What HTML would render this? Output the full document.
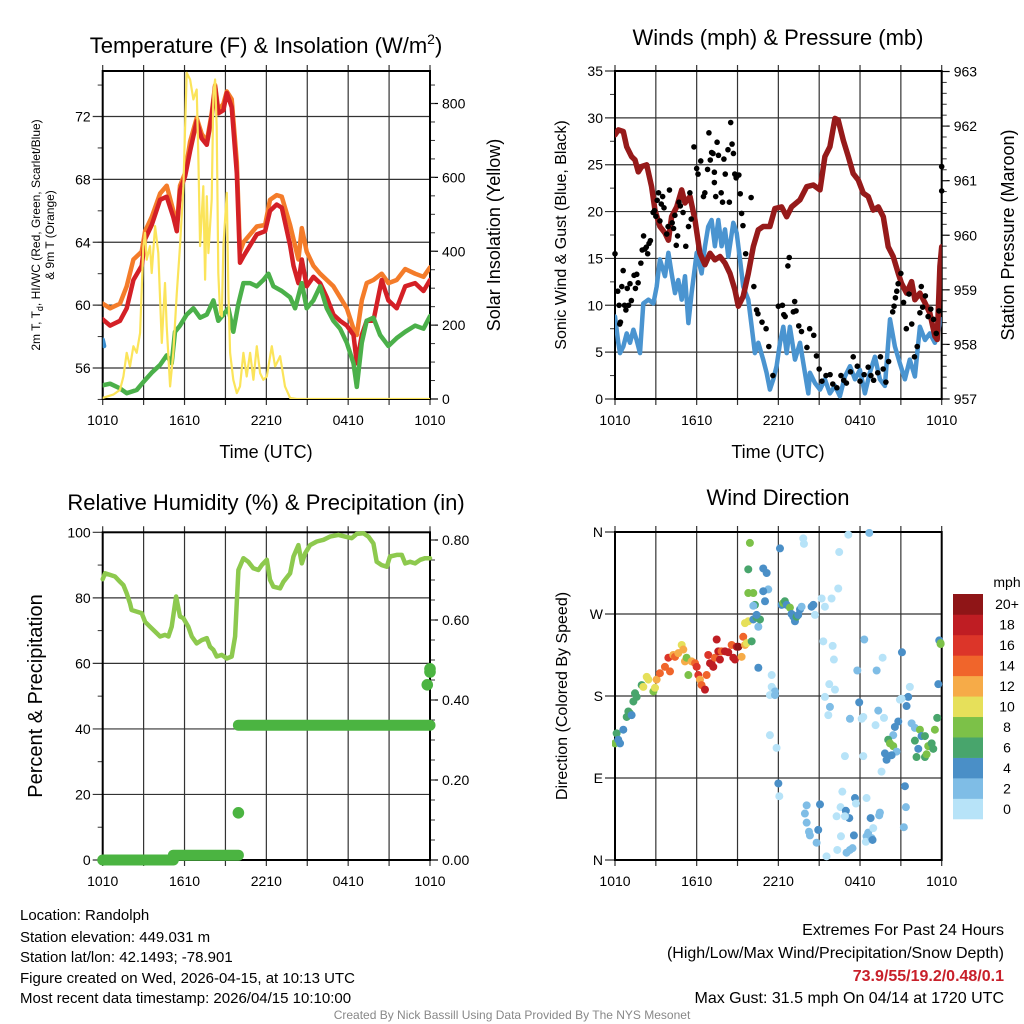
<!DOCTYPE html>
<html><head><meta charset="utf-8">
<style>
html,body{margin:0;padding:0;background:#fff;}
svg{display:block;font-family:"Liberation Sans",Arial,sans-serif;}
</style></head>
<body>
<svg id="fig" width="1024" height="1024" viewBox="0 0 1024 1024" xmlns="http://www.w3.org/2000/svg">
<defs>
<clipPath id="c1"><rect x="102.7" y="71" width="327.3" height="328"/></clipPath>
<clipPath id="c2"><rect x="615" y="71" width="326.7" height="328"/></clipPath>
<clipPath id="c3"><rect x="90" y="525" width="352" height="345"/></clipPath>
<clipPath id="c4"><rect x="612" y="529" width="334" height="334"/></clipPath>
</defs>
<g id="root"></g>
<text x="266" y="53" font-size="22" text-anchor="middle">Temperature (F) &amp; Insolation (W/m<tspan font-size="14" dy="-9">2</tspan><tspan dy="9">)</tspan></text>
<text x="778" y="45" font-size="22" text-anchor="middle">Winds (mph) &amp; Pressure (mb)</text>
<text x="266" y="510" font-size="22" text-anchor="middle">Relative Humidity (%) &amp; Precipitation (in)</text>
<text x="778" y="505" font-size="22" text-anchor="middle">Wind Direction</text>
<text x="266" y="458" font-size="18" text-anchor="middle">Time (UTC)</text>
<text x="778" y="458" font-size="18" text-anchor="middle">Time (UTC)</text>
<g transform="translate(40,235) rotate(-90)">
<text x="0" y="0" font-size="12" text-anchor="middle">2m T, T<tspan font-size="9" dy="3">d</tspan><tspan dy="-3">, HI/WC (Red, Green, Scarlet/Blue)</tspan></text>
<text x="0" y="14" font-size="12" text-anchor="middle">&amp; 9m T (Orange)</text>
</g>
<text transform="translate(500,235) rotate(-90)" font-size="18" text-anchor="middle">Solar Insolation (Yellow)</text>
<text transform="translate(566,235) rotate(-90)" font-size="16" text-anchor="middle">Sonic Wind &amp; Gust (Blue, Black)</text>
<text transform="translate(1014,235) rotate(-90)" font-size="18" text-anchor="middle">Station Pressure (Maroon)</text>
<text transform="translate(42,696) rotate(-90)" font-size="20" text-anchor="middle">Percent &amp; Precipitation</text>
<text transform="translate(567,696) rotate(-90)" font-size="16" text-anchor="middle">Direction (Colored By Speed)</text>
<g font-size="15">
<text x="20" y="920">Location: Randolph</text>
<text x="20" y="942">Station elevation: 449.031 m</text>
<text x="20" y="962">Station lat/lon: 42.1493; -78.901</text>
<text x="20" y="983">Figure created on Wed, 2026-04-15, at 10:13 UTC</text>
<text x="20" y="1003">Most recent data timestamp: 2026/04/15 10:10:00</text>
</g>
<g font-size="16" text-anchor="end">
<text x="1004" y="935">Extremes For Past 24 Hours</text>
<text x="1004" y="958">(High/Low/Max Wind/Precipitation/Snow Depth)</text>
<text x="1004" y="981" fill="#c8202a" font-weight="bold">73.9/55/19.2/0.48/0.1</text>
<text x="1004" y="1003">Max Gust: 31.5 mph On 04/14 at 1720 UTC</text>
</g>
<text x="512" y="1019" font-size="12" fill="#888" text-anchor="middle">Created By Nick Bassill Using Data Provided By The NYS Mesonet</text>
</svg>
<script>
// ---------- DATA ----------
const xTickLabels = ["1010","1610","2210","0410","1010"];
// Panel 1 temperatures (hours since 1010 UTC)
const tempTimes = [0,0.54,1.27,1.76,2.25,2.86,3.11,3.59,4.21,4.69,5.18,5.43,5.67,6.04,6.41,6.89,7.26,7.63,7.99,8.24,8.48,8.85,9.10,9.46,9.83,10.07,10.32,10.81,11.30,11.91,12.27,12.76,13.13,13.74,13.99,14.35,14.60,14.96,15.45,15.94,16.43,16.92,17.41,17.90,18.39,18.63,19.00,19.36,19.85,20.46,20.95,21.56,22.18,22.91,23.52,24];
const temp2m = [59.1,58.7,59.0,59.8,61.6,62.5,64.2,65.1,66.7,66.9,65.6,64.7,67.3,68.2,69.8,71.7,70.6,70.2,72.0,73.9,72.2,72.4,73.5,72.6,68.4,62.7,63.1,63.8,64.5,64.7,66.0,66.4,66.2,63.8,62.5,61.4,62.9,61.2,61.8,61.4,60.5,59.4,59.0,58.7,58.1,56.3,58.1,59.0,59.0,61.6,60.3,59.8,61.2,61.4,60.9,61.6];
const temp9m = [60.1,59.8,60.1,61.2,62.9,63.4,64.7,65.6,67.1,67.6,66.0,64.9,67.6,68.4,70.4,71.9,70.9,70.4,72.2,74.0,72.4,72.8,73.6,73.1,69.1,63.4,64.0,64.5,65.0,65.1,66.7,67.0,66.9,65.1,64.2,62.9,64.9,63.4,62.5,62.0,61.6,61.2,60.5,59.8,58.5,58.1,60.3,61.4,61.6,62.0,61.4,61.6,62.3,62.0,61.8,62.4];
const dewTimes = [0,0.54,1.27,1.76,2.49,2.98,3.59,4.21,4.69,5.06,5.30,5.67,6.16,6.65,7.14,7.63,8.12,8.48,8.85,9.22,9.58,9.95,10.32,10.81,11.30,11.78,12.15,12.52,13.13,13.74,14.11,14.60,14.96,15.45,15.94,16.43,16.92,17.41,17.90,18.39,18.63,19.00,19.36,19.85,20.34,20.95,21.56,22.18,22.91,23.52,24];
const dewpoint = [54.9,55.0,54.7,54.4,54.6,55.1,55.7,56.2,56.8,56.3,58.3,58.7,59.4,59.8,59.2,59.4,60.3,59.0,59.4,59.8,58.3,60.1,61.4,61.4,61.2,61.6,62.0,61.2,60.9,60.5,59.8,61.4,59.8,60.3,61.2,59.8,59.0,58.5,57.6,56.3,54.8,57.6,59.0,59.2,58.1,57.4,57.9,58.3,58.7,58.5,59.3];
const windChillTimes = [0,0.1];
const windChill = [57.8,57.4];
const solarTimes = [0,0.78,1.27,1.52,1.76,2.0,2.25,2.49,2.74,2.98,3.11,3.23,3.47,3.59,3.84,4.08,4.33,4.57,4.69,4.94,5.18,5.43,5.67,5.92,6.16,6.41,6.65,6.89,7.02,7.14,7.38,7.51,7.63,7.75,7.99,8.12,8.24,8.36,8.48,8.61,8.73,8.85,9.10,9.22,9.34,9.58,9.83,10.07,10.32,10.56,10.81,11.05,11.30,11.54,11.78,12.03,12.40,12.64,13.01,13.37,13.74,14.23,24];
const solar = [3,12,25,61,125,88,143,125,179,414,450,377,414,341,468,395,152,314,197,34,125,287,414,576,883,865,811,838,648,414,576,323,549,395,540,829,865,738,341,233,224,414,558,287,125,52,16,34,125,61,125,52,143,70,52,61,143,88,116,34,3,0,0];
// Panel 2 winds & pressure
const windTimes = [0,0.24,0.37,0.61,0.86,1.10,1.35,1.59,1.84,2.08,2.45,2.82,3.06,3.30,3.67,3.92,4.16,4.41,4.65,4.90,5.14,5.39,5.63,6.00,6.36,6.61,6.85,7.10,7.34,7.59,7.83,8.08,8.32,8.69,8.94,9.18,9.42,9.79,10.04,10.28,10.53,10.89,11.14,11.38,11.63,11.87,12.12,12.36,12.61,12.85,13.22,13.59,14.20,14.32,14.69,15.06,15.42,15.79,16.16,16.52,16.89,17.26,17.63,17.99,18.36,18.72,19.09,19.46,19.83,20.20,20.56,20.93,21.30,21.66,22.03,22.40,22.77,23.13,23.50,23.87,24];
const windSpeed = [8.8,6.0,4.9,5.6,7.0,6.0,7.4,6.3,4.9,10.2,10.6,10.2,12.0,14.9,13.1,15.6,13.4,11.3,12.7,10.6,13.1,8.1,11.3,15.6,13.4,16.3,18.4,19.1,16.3,19.1,16.3,18.1,15.2,18.8,17.7,14.9,12.0,10.6,7.7,4.9,6.0,4.2,2.8,1.0,2.1,3.5,6.0,7.7,4.9,7.7,4.2,6.0,0.6,2.8,1.7,1.0,2.1,0.6,1.4,0.3,2.4,3.5,2.1,3.1,0.6,2.8,4.5,2.1,1.4,8.5,5.6,3.8,2.1,4.2,2.4,7.7,6.3,7.0,6.0,8.1,8.5];
const gustTimes = [0,0.2,0.3,0.35,0.4,0.5,0.6,0.7,0.8,0.9,1.0,1.1,1.2,1.4,1.5,1.6,1.7,1.9,2.0,2.1,2.2,2.3,2.4,2.5,2.6,2.8,2.9,3.0,3.1,3.2,3.3,3.4,3.5,3.6,3.8,3.9,4.0,4.2,4.3,4.4,4.5,4.6,4.7,4.8,5.0,5.2,5.4,5.5,5.6,5.8,6.0,6.1,6.3,6.5,6.6,6.8,6.9,7.0,7.1,7.2,7.3,7.3,7.4,7.5,7.6,7.8,7.9,8.0,8.1,8.3,8.4,8.5,8.6,8.7,8.8,8.9,9.1,9.2,9.3,9.4,9.6,10.0,10.2,10.4,10.5,10.8,11.1,11.3,11.6,12.0,12.3,12.4,12.5,12.7,12.8,13.1,13.2,13.3,13.5,13.7,14.1,14.3,14.6,14.8,15.0,15.2,15.5,15.8,16.0,16.3,16.6,16.8,17.0,17.3,17.5,17.8,18.0,18.3,18.6,18.8,19.0,19.3,19.5,19.7,19.9,20.1,20.4,20.5,20.6,20.7,20.8,21.0,21.2,21.4,21.6,21.8,22.0,22.2,22.4,22.5,22.6,22.8,23.0,23.2,23.4,23.6,23.8,24.0,24.0];
const gustSpeed = [15.5,11.5,10,8,8.2,12,13.7,10,9.5,11.8,10,12.3,10.5,13.2,11.8,13.3,12.4,14.5,15.9,17.4,16,16.2,15.5,16.6,16.9,19.9,20.1,19.5,21.2,22,19,20.8,21.6,20.4,17.6,18.4,22.3,18.8,18.2,19.6,16.4,17.4,21,20.6,19.9,16.3,18.4,22,19.2,26.9,24.6,24,25.4,21.6,22,24.5,28.4,25.5,26.3,26.2,24.2,23.1,21.6,27.4,26,22,21,25.6,24,26.6,21,29.5,27.2,26.2,24,23.6,23.9,21.9,19.8,18.5,15.5,21.5,12,9.5,9.1,8.2,7.5,5.6,2.5,9.9,10,9,8.8,14.2,15.1,9.3,10.4,9.4,7.8,7.2,5.5,7.5,6.8,4.6,3.2,1.9,2.5,2.6,1.6,1.2,2.5,2.0,1.7,2.9,4.5,3.5,1.9,2.6,3.4,2.5,2.0,2.8,4.5,3.2,1.8,4.0,9.3,9.9,10.8,11.5,12.3,13.4,10.3,7.5,11.2,8.0,4.5,5.6,9.2,12,9.8,11,8.8,9.6,8.5,7.0,9.4,24.8,22.2];
const presTimes = [0,0.24,0.61,0.86,1.22,1.47,1.71,1.96,2.33,2.69,2.94,3.30,3.67,3.92,4.16,4.53,4.90,5.14,5.51,5.88,6.24,6.61,6.98,7.34,7.71,8.08,8.45,8.81,9.06,9.42,9.79,10.16,10.53,10.89,11.38,11.75,12.24,12.61,12.97,13.59,14.08,14.57,15.06,15.42,15.79,16.16,16.40,16.77,17.14,17.50,17.87,18.24,18.60,18.97,19.34,19.71,20.07,20.44,20.81,21.05,21.42,21.79,22.03,22.40,22.77,23.13,23.50,23.67,23.87,24.0];
const pressure = [961.84,961.93,961.90,961.62,961.44,961.38,961.16,961.26,961.29,960.89,960.46,960.16,960.04,959.91,960.34,960.52,960.83,960.59,960.71,960.28,959.67,959.46,959.67,959.55,959.61,959.49,959.30,959.00,958.70,958.88,959.30,959.79,960.10,960.16,960.16,960.49,960.52,960.34,960.52,960.65,960.89,960.92,960.83,961.44,961.62,962.14,962.11,961.74,961.44,961.13,961.01,960.77,960.71,960.46,960.52,960.34,959.79,959.61,959.30,959.12,958.94,959.15,958.82,958.94,958.76,958.57,958.15,958.09,959.43,959.79];
// Panel 3 humidity & precipitation
const rhTimes = [0,0.17,0.54,0.90,1.27,1.52,1.76,2.0,2.12,2.49,2.86,3.11,3.47,3.84,4.21,4.57,4.82,5.06,5.38,5.67,5.92,6.28,6.53,6.89,7.26,7.63,7.87,8.12,8.36,8.73,9.10,9.46,9.71,9.95,10.32,10.68,11.05,11.42,11.67,12.03,12.27,12.52,13.01,13.25,13.74,13.99,14.35,14.60,14.84,15.21,15.70,16.19,16.67,17.28,17.77,18.26,18.63,19.12,19.48,19.85,20.09,20.46,20.83,21.07,21.56,21.93,22.18,22.54,22.91,23.28,23.64,24];
const humidity = [85.7,87.5,87.0,86.5,84.9,83.9,81.4,78.3,76.3,75.8,75.3,72.7,71.2,69.7,68.2,68.7,68.2,71.2,80.4,74.3,73.8,71.2,68.2,66.1,67.1,67.7,65.1,64.1,62.1,62.6,61.5,62.1,68.2,88.5,92.1,91.0,89.0,88.5,90.0,91.6,85.5,83.4,82.9,84.9,87.5,92.6,96.1,90.5,93.6,96.1,97.2,97.7,98.7,99.2,98.7,98.2,99.5,99.7,98.7,96.6,91.0,90.0,89.5,92.6,93.1,93.1,90.5,91.0,90.5,91.6,92.1,92.1];
const precipRunStart = [0,5.18,9.95];
const precipRunEnd = [5.18,9.95,24];
const precipRunValue = [0.0,0.012,0.337];
const precipDotTimes = [9.95,23.8,24.0,24.0];
const precipDotValues = [0.118,0.438,0.47,0.478];
// Panel 4 wind direction
const dirTimes = [0,0.12,0.24,0.37,0.61,0.86,0.98,1.10,1.22,1.35,1.59,1.47,1.96,2.08,2.33,2.45,2.82,2.94,3.06,3.30,3.67,3.92,4.04,4.28,4.41,4.65,4.90,5.02,5.14,5.26,5.39,5.63,5.88,6.00,6.12,6.24,6.36,6.61,6.73,6.85,6.98,7.10,7.22,7.34,7.47,7.59,7.71,7.83,8.08,8.32,8.57,8.69,8.81,8.94,9.06,9.30,9.42,9.55,9.67,9.55,9.79,10.04,10.16,10.40,10.53,10.65,10.40,10.28,10.16,10.16,9.79,9.79,9.91,10.89,11.14,11.26,10.89,11.02,10.53,12.12,12.24,12.36,12.48,12.61,12.85,12.97,13.10,13.22,13.34,13.46,13.59,13.71,14.44,14.57,14.69,15.18,15.42,15.91,16.40,13.83,13.88,16.47,17.14,18.68,
11.51,11.51,11.63,11.75,11.38,11.75,11.38,11.87,12.00,12.07,15.30,15.99,16.08,15.74,16.16,15.79,15.67,15.42,16.89,17.26,18.12,18.24,17.94,17.80,18.31,19.22,19.66,19.34,19.76,19.14,18.24,19.58,
21.08,21.66,21.54,21.42,20.93,21.05,20.81,20.56,20.44,20.07,20.20,20.44,20.69,19.83,20.32,19.95,21.79,22.03,22.03,22.40,22.52,22.77,23.01,23.26,23.38,23.50,23.67,22.28,22.15,22.77,22.89,23.75,23.82,23.92,23.92,
14.08,13.95,14.08,14.25,14.32,14.81,15.06,14.93,15.54,16.33,16.28,16.57,16.96,16.70,17.21,16.89,16.60,17.01,17.26,17.45,17.55,17.63,17.70,18.48,18.48,18.60,18.43,18.85,18.92,18.97,18.78,19.41,19.46,21.30,21.37,21.22];
const dirDegrees = [128,139,132,128,143,157,163,161,159,174,179,183,192,190,201,198,185,189,198,205,212,222,207,225,223,227,236,231,218,222,203,218,216,212,203,198,192,187,203,225,216,215,212,222,242,229,220,229,229,228,236,222,220,234,234,223,245,236,238,260,262,240,264,266,256,264,269,280,279,293,293,319,348,320,315,297,295,284,211,342,280,282,284,280,277,270,267,262,267,269,275,278,278,280,269,287,278,287,298,353,347,338,357,359,
203,190,187,185,181,181,137,123,84,70,240,235,220,193,187,168,159,179,114,155,155,157,173,208,242,208,222,164,156,148,114,97,
228,190,179,169,176,177,152,146,137,132,128,125,119,117,115,110,150,145,131,143,136,136,125,128,122,143,156,122,113,113,116,193,241,237,238,
60,51,41,31,27,19,61,33,4,11,48,58,54,75,46,48,26,8,11,13,27,68,62,68,26,30,20,24,22,35,46,49,52,81,58,36];
const dirSpeeds = [9,7,5,5,5,7,7,7,5,7,7,7,7,11,11,11,9,11,13,15,15,17,15,13,15,13,11,13,13,9,9,13,15,17,17,13,15,19,15,17,19,19,19,15,19,19,19,15,19,19,15,19,19,19,21,13,15,13,11,11,11,7,5,7,3,7,5,7,3,9,9,7,9,5,5,3,5,5,5,5,5,9,7,5,9,5,5,5,7,5,5,3,5,5,1,1,1,1,1,1,1,1,1,3,
1,1,1,3,1,3,1,1,5,1,1,1,1,1,1,3,1,1,1,3,1,1,5,3,3,3,1,3,1,1,1,1,
5,1,5,5,1,1,5,5,3,7,9,9,3,5,5,5,3,3,7,9,5,7,9,7,7,9,7,5,7,7,9,5,5,9,9,
3,3,3,3,3,3,5,5,1,1,1,1,5,1,5,1,1,3,3,3,5,5,1,1,3,3,1,3,5,1,5,3,3,5,3,3];
const speedBinLabels = ["0","2","4","6","8","10","12","14","16","18","20+"];
const speedBinColors = ["#b7e3f8","#7fbde6","#4a8fc7","#48a56c","#7cc148","#e6e05a","#f6ab48","#f0652b","#dc3529","#bf1d23","#8f1517"];

// ---------- DRAW ----------
const NS = "http://www.w3.org/2000/svg";
const root = document.getElementById('root');
function mk(tag, attrs, parent){
  const e = document.createElementNS(NS, tag);
  for (const k in attrs) e.setAttribute(k, attrs[k]);
  (parent||root).appendChild(e);
  return e;
}
function lin(d0,d1,r0,r1){ return v => r0 + (v-d0)/(d1-d0)*(r1-r0); }

function frame(P, name){
  const g = mk('g', {});
  
  
  // vertical grid every 3h
  for (let h=0; h<=24; h+=3){
    const x = P.x(h);
    const gl = mk('line', {x1:x, x2:x, y1:P.y0-6, y2:P.y1+6, stroke:'#333', 'stroke-width':1.2}, g);
    
    
  }
  xTickLabels.forEach((lab,i)=>{
    const t = mk('text', {x:P.x(i*6), y:P.y1+26, 'font-size':14, 'text-anchor':'middle'}, g);
    t.textContent = lab;
    
    
  });
  return g;
}
function box(P, g){
  mk('rect', {x:P.x0, y:P.y0, width:P.x1-P.x0, height:P.y1-P.y0, fill:'none', stroke:'#000', 'stroke-width':2}, g);
}
function leftAxis(P, g, ticks, labels, minors, name){
  ticks.forEach((v,i)=>{
    const y = P.yl(v);
    mk('line', {x1:P.x0-10, x2:P.x1, y1:y, y2:y, stroke:'#333', 'stroke-width':1.2}, g);
    const t = mk('text', {x:P.x0-12, y:y+5, 'font-size':14, 'text-anchor':'end'}, g);
    t.textContent = labels[i];
    
    
  });
  minors.forEach(v=>{ const y=P.yl(v); mk('line',{x1:P.x0-5,x2:P.x0,y1:y,y2:y,stroke:'#333','stroke-width':1},g); });
}
function rightAxis(P, g, ys, ticks, labels, minors, name){
  ticks.forEach((v,i)=>{
    const y = ys(v);
    mk('line', {x1:P.x1, x2:P.x1+8, y1:y, y2:y, stroke:'#000', 'stroke-width':1.2}, g);
    const t = mk('text', {x:P.x1+12, y:y+5, 'font-size':14, 'text-anchor':'start'}, g);
    t.textContent = labels[i];
    
    
  });
  minors.forEach(v=>{ const y=ys(v); mk('line',{x1:P.x1,x2:P.x1+5,y1:y,y2:y,stroke:'#333','stroke-width':1},g); });
}
function pathOf(xs, ys, fx, fy){
  return xs.map((t,i)=>(i?'L':'M')+fx(t).toFixed(1)+','+fy(ys[i]).toFixed(1)).join('');
}
function seq(a,b,s){ const r=[]; for(let v=a; v<=b+1e-9; v+=s) r.push(+v.toFixed(3)); return r; }

// Panel 1
const P1 = {x0:102.7, x1:430, y0:71, y1:399};
P1.x = lin(0,24,P1.x0,P1.x1);
P1.yl = lin(56,72,368,116.5);
const ySolar = lin(0,800,399,103.5);
const g1 = frame(P1,'temperature');
leftAxis(P1, g1, [56,60,64,68,72], ["56","60","64","68","72"], seq(54,74,2), 'temperature-y');
rightAxis(P1, g1, ySolar, [0,200,400,600,800], ["0","200","400","600","800"], seq(50,850,50), 'solar-y');
const s1 = mk('g', {'clip-path':'url(#c1)', fill:'none', 'stroke-linejoin':'round', 'stroke-linecap':'round'});
let e;
e = mk('path', {d:pathOf(tempTimes,temp9m,P1.x,P1.yl), stroke:'#f47c2a', 'stroke-width':4.5}, s1);
 
e = mk('path', {d:pathOf(tempTimes,temp2m,P1.x,P1.yl), stroke:'#d42026', 'stroke-width':4.5}, s1);
 
e = mk('path', {d:pathOf(dewTimes,dewpoint,P1.x,P1.yl), stroke:'#4bb04a', 'stroke-width':4.5}, s1);
 
e = mk('path', {d:pathOf(windChillTimes,windChill,P1.x,P1.yl), stroke:'#3b8fd0', 'stroke-width':4.5}, s1);
 
e = mk('path', {d:pathOf(solarTimes,solar,P1.x,ySolar), stroke:'#fbe45a', 'stroke-width':2.2}, s1);
 
box(P1,g1);

// Panel 2
const P2 = {x0:615, x1:941.7, y0:71, y1:399};
P2.x = lin(0,24,P2.x0,P2.x1);
P2.yl = lin(0,35,399,71);
const yPres = lin(957,963,399,71.5);
const g2 = frame(P2,'winds');
leftAxis(P2, g2, seq(0,35,5), ["0","5","10","15","20","25","30","35"], seq(2.5,32.5,5), 'wind-y');
rightAxis(P2, g2, yPres, seq(957,963,1), ["957","958","959","960","961","962","963"], seq(957.2,962.8,0.2), 'pressure-y');
const s2 = mk('g', {'clip-path':'url(#c2)', fill:'none', 'stroke-linejoin':'round', 'stroke-linecap':'round'});
e = mk('path', {d:pathOf(windTimes,windSpeed,P2.x,P2.yl), stroke:'#4a94d0', 'stroke-width':4.5}, s2);
 
const gustG = mk('g', {fill:'#000'});
 
gustTimes.forEach((t,i)=>{
  const c = mk('circle', {cx:P2.x(t), cy:P2.yl(gustSpeed[i]), r:2.8}, gustG);
  
  
});
e = mk('path', {d:pathOf(presTimes,pressure,P2.x,yPres), stroke:'#961a1a', 'stroke-width':5.5}, s2);
 
box(P2,g2);

// Panel 3
const P3 = {x0:102.7, x1:430, y0:532.3, y1:860};
P3.x = lin(0,24,P3.x0,P3.x1);
P3.yl = lin(0,100,860,532.3);
const yPrecip = lin(0,0.8,860,540);
const g3 = frame(P3,'humidity');
leftAxis(P3, g3, seq(0,100,20), ["0","20","40","60","80","100"], seq(10,90,20), 'humidity-y');
rightAxis(P3, g3, yPrecip, seq(0,0.8,0.2), ["0.00","0.20","0.40","0.60","0.80"], seq(0.05,0.8,0.05), 'precip-y');
const s3 = mk('g', {'clip-path':'url(#c3)', fill:'none', 'stroke-linejoin':'round', 'stroke-linecap':'round'});
e = mk('path', {d:pathOf(rhTimes,humidity,P3.x,P3.yl), stroke:'#8dc94e', 'stroke-width':4.5}, s3);
 
precipRunStart.forEach((t,i)=>{
  const y = yPrecip(precipRunValue[i]);
  const l = mk('line', {x1:P3.x(t), x2:P3.x(precipRunEnd[i]), y1:y, y2:y, stroke:'#4bb441', 'stroke-width':11, 'stroke-linecap':'round'}, s3);
  
  
});
precipDotTimes.forEach((t,i)=>{
  const c = mk('circle', {cx:P3.x(t), cy:yPrecip(precipDotValues[i]), r:5.8, fill:'#4bb441'}, s3);
  
  
});
box(P3,g3);

// Panel 4
const P4 = {x0:615, x1:941.7, y0:532, y1:860};
P4.x = lin(0,24,P4.x0,P4.x1);
P4.yl = lin(0,360,860,532);
const g4 = frame(P4,'wind-direction');
leftAxis(P4, g4, [0,90,180,270,360], ["N","E","S","W","N"], [], 'direction-y');
const s4 = mk('g', {'clip-path':'url(#c4)'});
 
function binColor(s){ let b=Math.floor(s/2); if(b>10)b=10; if(b<0)b=0; return speedBinColors[b]; }
dirTimes.forEach((t,i)=>{
  const c = mk('circle', {cx:P4.x(t), cy:P4.yl(dirDegrees[i]), r:4, fill:binColor(dirSpeeds[i])}, s4);
  
  
});
box(P4,g4);
// colorbar legend
const lg = mk('g', {});
 
const mt = mk('text', {x:1007, y:587, 'font-size':14, 'text-anchor':'middle'}, lg);
mt.textContent = 'mph';
 
const bh = (819-594)/speedBinLabels.length;
speedBinLabels.forEach((lab,i)=>{
  const k = speedBinLabels.length-1-i;
  const y = 594 + k*bh;
  const r = mk('rect', {x:953, y:y, width:30, height:bh+0.3, fill:speedBinColors[i]}, lg);
  
  
  const t = mk('text', {x:1007, y:y+bh/2+5, 'font-size':14, 'text-anchor':'middle'}, lg);
  t.textContent = lab;
  
  
});
</script>
</body></html>
